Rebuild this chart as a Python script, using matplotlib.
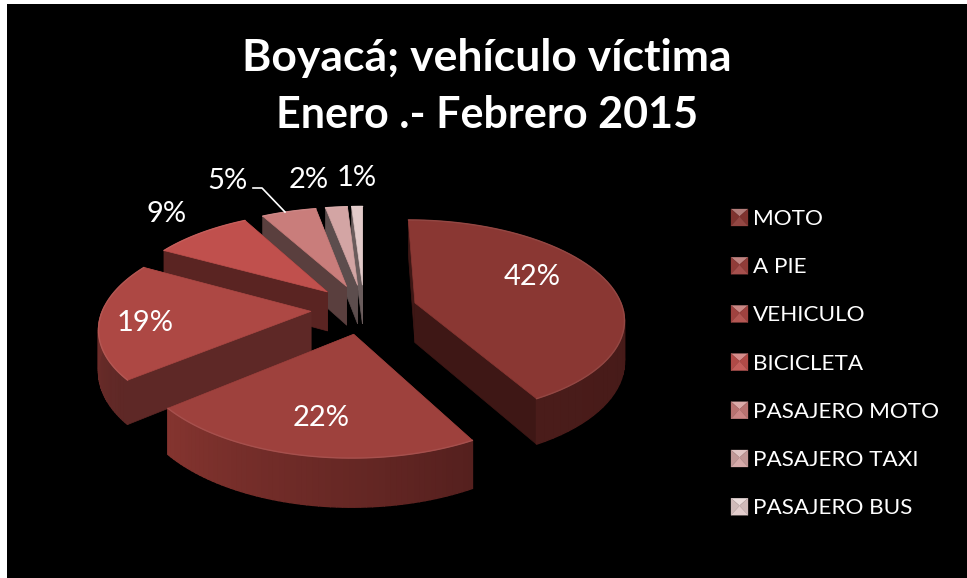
import numpy as np
import matplotlib
matplotlib.use("Agg")
import matplotlib.pyplot as plt
from matplotlib.colors import to_rgb
from matplotlib.patches import Polygon

plt.rcParams['font.family'] = ['Lato', 'DejaVu Sans']

# ---------------------------
# Data
# ---------------------------
categories = ["MOTO", "A PIE", "VEHICULO", "BICICLETA",
              "PASAJERO MOTO", "PASAJERO TAXI", "PASAJERO BUS"]
values = [42, 22, 19, 9, 5, 2, 1]
title_lines = ["Boyacá; vehículo víctima", "Enero .- Febrero 2015"]

top_colors = ["#8a3733", "#9e413d", "#ad4844", "#c0504d", "#c97d7b", "#d3a5a4", "#e2cac9"]
side_colors = ["#3e1715", "#5a2220", "#5e2826", "#5a2422", "#5a3f3e", "#5c4d4d", "#6a5c5c"]
outer_left = ["#4a1c1a", "#84342f", "#7a302c", "#6a2a28", "#6a4a49", "#6a5a5a", "#7a6c6c"]
outer_right = ["#3e1715", "#55201e", "#5e2826", "#5a2422", "#5a3f3e", "#5c4d4d", "#6a5c5c"]
label_pos = [(532, 277), (321, 418), (145, 323), (167, 214), (227, 181), (309, 180), (357, 178)]

# view of the tilted pie, in pixels
cx, cy = 364, 309
rx, ry = 208, 97
persp = 0.149
depth = 40
explode = 0.255


def proj(X, Y, z=0.0):
    s = 1 / (1 + persp * Y)
    return cx + rx * X * s, cy - ry * Y * s + depth * z * s


def mix(c1, c2, t):
    a, b = np.array(to_rgb(c1)), np.array(to_rgb(c2))
    return tuple(a + (b - a) * t)


def draw_slice(ax, start, end, top, side, left, right):
    mid = (start + end) / 2
    ox, oy = explode * np.sin(mid), explode * np.cos(mid)
    th = np.linspace(start, end, 60)
    X = ox + np.sin(th)
    Y = oy + np.cos(th)

    # radial walls
    for a in (start, end):
        xa, ya = ox + np.sin(a), oy + np.cos(a)
        wall = [proj(ox, oy), proj(xa, ya), proj(xa, ya, 1), proj(ox, oy, 1)]
        ax.add_patch(Polygon(wall, closed=True, fc=side, ec=side, lw=0.5))

    # outer wall, one strip per step so the shade can change along it
    px, py = proj(X, Y)
    qx, qy = proj(X, Y, 1)
    for i in range(len(th) - 1):
        if np.cos(th[i]) > 0.05:
            continue
        c = mix(right, left, i / (len(th) - 2))
        strip = [(px[i], py[i]), (px[i + 1], py[i + 1]), (qx[i + 1], qy[i + 1]), (qx[i], qy[i])]
        ax.add_patch(Polygon(strip, closed=True, fc=c, ec=c, lw=1.0))

    # top face
    ax0, ay0 = proj(ox, oy)
    face = [(ax0, ay0)] + list(zip(px, py))
    ax.add_patch(Polygon(face, closed=True, fc=top, ec=top, lw=0.5))

    # small bevel along the rim
    ax.plot(px, py, color=mix(top, "#ffffff", 0.08), lw=1.0, solid_capstyle="round")


def draw_key(ax, x, y, size, color):
    c = (x + size / 2, y + size / 2 - 1)
    tl, tr = (x, y), (x + size, y)
    bl, br = (x, y + size), (x + size, y + size)
    shades = [
        ([tl, tr, c], mix(color, "#ffffff", 0.35)),
        ([tl, bl, c], mix(color, "#000000", 0.08)),
        ([tr, br, c], mix(color, "#000000", 0.08)),
        ([bl, br, c], mix(color, "#ffffff", 0.08)),
    ]
    for pts, col in shades:
        ax.add_patch(Polygon(pts, closed=True, fc=col, ec=col, lw=0.2))


fig = plt.figure(figsize=(9.67, 5.78), dpi=100, facecolor="white")
ax = fig.add_axes([7 / 967, 0, 960 / 967, 574 / 578], facecolor="black")
ax.set_xlim(7, 967)
ax.set_ylim(578, 4)
ax.set_xticks([])
ax.set_yticks([])
for sp in ax.spines.values():
    sp.set_visible(False)

# slice angles from the values, clockwise from the top
edges = np.cumsum([0] + values) / sum(values) * 2 * np.pi

# back slices first
for i in [6, 5, 4, 3, 2, 0, 1]:
    draw_slice(ax, edges[i], edges[i + 1], top_colors[i], side_colors[i], outer_left[i], outer_right[i])

for v, (x, y) in zip(values, label_pos):
    ax.text(x, y, f"{v}%", color="white", fontsize=21, ha="center", va="center")

# leader line of the 5% label
ax.plot([253, 262, 285], [188, 188, 212], color="white", lw=1.2)

ax.text(487, 58, title_lines[0], color="white", fontsize=32, fontweight="bold", ha="center", va="center")
ax.text(487, 115, title_lines[1], color="white", fontsize=31, fontweight="bold", ha="center", va="center")

# legend
for i, name in enumerate(categories):
    y = 209 + i * 48.2
    draw_key(ax, 731, y, 17, top_colors[i])
    ax.text(753, y + 10, name, color="white", fontsize=16.2, ha="left", va="center")

fig.savefig("out.png", dpi=100, facecolor="white")
